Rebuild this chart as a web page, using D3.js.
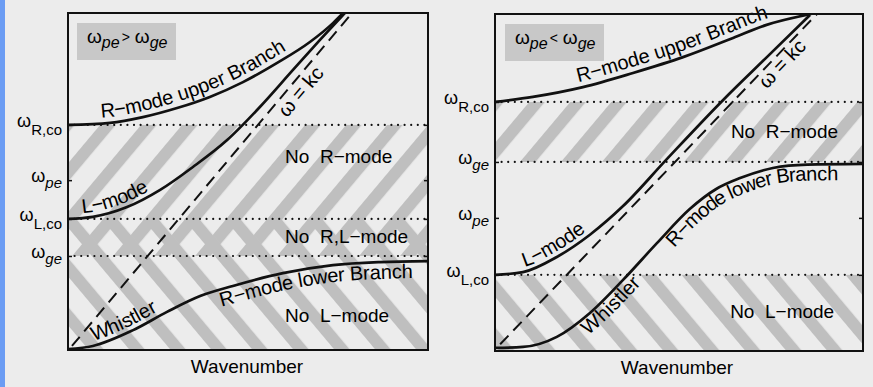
<!DOCTYPE html>
<html>
<head>
<meta charset="utf-8">
<script src="https://cdn.jsdelivr.net/npm/d3@7"></script>
<style>
  body { margin: 0; background: #ececec; }
  svg { display: block; font-family: "Liberation Sans", Arial, sans-serif; }
</style>
</head>
<body>
<svg id="chart" width="873" height="387"></svg>
<script>
// ---- data (wavenumber k and frequency w, both in arbitrary 0..10 units) ----

// left panel: w_pe > w_ge
const leftCutoffNames  = ["R,co", "pe", "L,co", "ge"];
const leftCutoffValues = [6.68, 5.04, 3.89, 2.79];
const leftUpper = [[0,6.68],[1.17,6.74],[2.08,6.91],[3.03,7.18],[3.94,7.51],[4.86,7.95],[5.81,8.52],[6.72,9.14],[7.36,9.70],[7.64,10.0]];
const leftLmode = [[0,3.89],[0.69,3.95],[1.64,4.24],[2.56,4.75],[3.47,5.43],[4.42,6.23],[5.33,7.21],[6.25,8.31],[7.0,9.2],[7.69,10.0]];
const leftLower = [[0,0.03],[0.69,0.12],[1.81,0.59],[2.75,1.13],[3.67,1.6],[4.58,1.9],[5.97,2.28],[7.36,2.52],[8.67,2.61],[10,2.64]];
const leftLight = [[0.11,0.12],[7.89,10.0]];

// right panel: w_pe < w_ge
const rightCutoffNames  = ["R,co", "ge", "pe", "L,co"];
const rightCutoffValues = [7.39, 5.61, 3.95, 2.26];
const rightUpper = [[0,7.39],[1.03,7.54],[2.39,7.83],[3.75,8.25],[5.11,8.72],[6.47,9.29],[7.36,9.67],[8.59,10.0]];
const rightLmode = [[0,2.26],[0.76,2.34],[1.68,2.79],[2.58,3.45],[3.48,4.3],[4.65,5.67],[6.2,7.45],[7.36,8.69],[8.56,9.97]];
const rightLower = [[0,0.09],[0.76,0.12],[1.68,0.42],[2.58,1.13],[3.48,2.11],[4.4,3.2],[5.3,4.22],[6.0,4.8],[6.66,5.13],[7.55,5.43],[8.48,5.53],[10,5.55]];
const rightLight = [[0.14,0.2],[8.75,10.0]];

const xLabel = "Wavenumber";

const svg = d3.select("#chart");
const defs = svg.append("defs");

// blue strip at the left edge
svg.append("rect").attr("x", 0).attr("y", 0).attr("width", 5).attr("height", 387).attr("fill", "#6b9cf3");

// hatch patterns: "/" and "\" stripes
function hatch(id, angle) {
  const p = defs.append("pattern")
    .attr("id", id)
    .attr("patternUnits", "userSpaceOnUse")
    .attr("width", 31.4).attr("height", 20)
    .attr("patternTransform", `rotate(${angle})`);
  p.append("rect").attr("x", 0).attr("y", 0).attr("width", 12).attr("height", 20).attr("fill", "#bfbfbf");
}
hatch("slash", 40);
hatch("back", -40);

const FS = 19;

function drawPanel(o) {
  const x = d3.scaleLinear().domain([0, 10]).range([o.x0, o.x1]);
  const y = d3.scaleLinear().domain([0, 10]).range([o.y0, o.y1]);
  const g = svg.append("g");
  const lvl = name => o.cutoffValues[o.cutoffNames.indexOf(name)];

  defs.append("clipPath").attr("id", o.id + "-clip")
    .append("rect").attr("x", o.x0).attr("y", o.y1)
    .attr("width", o.x1 - o.x0).attr("height", o.y0 - o.y1);

  // forbidden regions
  g.append("rect")
    .attr("x", o.x0).attr("width", o.x1 - o.x0)
    .attr("y", y(lvl("R,co"))).attr("height", y(lvl("ge")) - y(lvl("R,co")))
    .attr("fill", "url(#slash)");
  g.append("rect")
    .attr("x", o.x0).attr("width", o.x1 - o.x0)
    .attr("y", y(lvl("L,co"))).attr("height", y(0) - y(lvl("L,co")))
    .attr("fill", "url(#back)");

  // title box
  g.append("rect").attr("x", o.x0 + o.box[0]).attr("y", o.y1 + o.box[1])
    .attr("width", 99).attr("height", 37).attr("fill", "#c8c8c8");
  const tt = g.append("text").attr("x", o.x0 + o.box[0] + 10).attr("y", o.y1 + o.box[1] + 20)
    .attr("font-size", 19);
  tt.append("tspan").text("ω");
  tt.append("tspan").attr("font-size", 16).attr("font-style", "italic").attr("dy", 5).text("pe");
  tt.append("tspan").attr("font-size", 14).attr("dx", 2).attr("dy", -6).text(o.rel);
  tt.append("tspan").attr("dx", 5).attr("dy", 1).text("ω");
  tt.append("tspan").attr("font-size", 16).attr("font-style", "italic").attr("dy", 5).text("ge");

  // cutoff dotted lines
  g.selectAll(".cut").data(o.cutoffValues.filter((v, i) => o.cutoffNames[i] !== "pe"))
    .enter().append("line")
    .attr("x1", o.x0).attr("x2", o.x1)
    .attr("y1", d => y(d)).attr("y2", d => y(d))
    .attr("stroke", "#111").attr("stroke-width", 2.2)
    .attr("stroke-linecap", "round").attr("stroke-dasharray", "0,6.6");

  // axes: only small inner ticks
  const la = g.append("g").attr("transform", `translate(${o.x0},0)`)
    .call(d3.axisLeft(y).tickValues(o.cutoffValues).tickSizeInner(-4).tickSizeOuter(0).tickFormat(""));
  const ra = g.append("g").attr("transform", `translate(${o.x1},0)`)
    .call(d3.axisRight(y).tickValues(o.cutoffValues).tickSizeInner(-4).tickSizeOuter(0).tickFormat(""));
  [la, ra].forEach(a => { a.select(".domain").remove(); a.selectAll("line").attr("stroke", "#111").attr("stroke-width", 1.5); });

  // cutoff labels
  o.cutoffNames.forEach((n, i) => {
    const t = g.append("text").attr("x", o.x0 - 6).attr("y", y(o.cutoffValues[i]) + 2)
      .attr("text-anchor", "end").attr("font-size", 18);
    t.append("tspan").text("ω");
    const italic = (n === "pe" || n === "ge");
    t.append("tspan").attr("font-size", 15).attr("dy", italic ? 6 : 8)
      .attr("font-style", italic ? "italic" : "normal").text(n);
  });

  // curves
  const line = d3.line().x(d => x(d[0])).y(d => y(d[1])).curve(d3.curveMonotoneX);
  const cg = g.append("g").attr("clip-path", `url(#${o.id}-clip)`);
  const paths = {};
  [["upper", o.upper], ["L", o.lmode], ["lower", o.lower]].forEach(([k, pts]) => {
    paths[k] = cg.append("path").attr("id", o.id + "-" + k).attr("d", line(pts))
      .attr("fill", "none").attr("stroke", "#111").attr("stroke-width", 2.7);
  });
  paths.light = cg.append("path").attr("id", o.id + "-light").attr("d", d3.line().x(d => x(d[0])).y(d => y(d[1]))(o.light))
    .attr("fill", "none").attr("stroke", "#111").attr("stroke-width", 2).attr("stroke-dasharray", "12,7");

  // labels along curves
  o.curveLabels.forEach(l => {
    const node = paths[l.curve].node();
    const px = x(l.k);
    let lo = 0, hi = node.getTotalLength();
    for (let i = 0; i < 30; i++) {
      const mid = (lo + hi) / 2;
      if (node.getPointAtLength(mid).x < px) lo = mid; else hi = mid;
    }
    g.append("text").attr("font-size", 20)
      .append("textPath").attr("href", `#${o.id}-${l.curve}`).attr("startOffset", lo)
      .append("tspan").attr("dy", l.dy).text(l.text);
  });

  // region labels
  o.regionLabels.forEach(l => {
    g.append("text").attr("x", x(l.k)).attr("y", y(l.w)).attr("font-size", FS)
      .style("white-space", "pre").text(l.text);
  });

  // frame
  g.append("rect").attr("x", o.x0).attr("y", o.y1).attr("width", o.x1 - o.x0).attr("height", o.y0 - o.y1)
    .attr("fill", "none").attr("stroke", "#111").attr("stroke-width", 2);

  // x label
  g.append("text").attr("x", (o.x0 + o.x1) / 2 + o.xlabDx).attr("y", o.y0 + 23)
    .attr("text-anchor", "middle").attr("font-size", 19).text(xLabel);
}

drawPanel({
  id: "lp", x0: 68, x1: 428, y0: 350, y1: 13, box: [9, 10], rel: ">",
  cutoffNames: leftCutoffNames, cutoffValues: leftCutoffValues,
  upper: leftUpper, lmode: leftLmode, lower: leftLower, light: leftLight, xlabDx: -1,
  curveLabels: [
    { curve: "upper", text: "R−mode upper Branch", k: 0.94, dy: -6 },
    { curve: "L", text: "L−mode", k: 0.42, dy: -5 },
    { curve: "lower", text: "Whistler", k: 0.75, dy: -5 },
    { curve: "lower", text: "R−mode lower Branch", k: 4.14, dy: 17 },
    { curve: "light", text: "ω = kc", k: 5.7, dy: 18 }
  ],
  regionLabels: [
    { text: "No  R−mode", k: 6.03, w: 5.55 },
    { text: "No  R,L−mode", k: 6.03, w: 3.18 },
    { text: "No  L−mode", k: 6.03, w: 0.83 }
  ]
});

drawPanel({
  id: "rp", x0: 495, x1: 863, y0: 351, y1: 14, box: [10, 10], rel: "<",
  cutoffNames: rightCutoffNames, cutoffValues: rightCutoffValues,
  upper: rightUpper, lmode: rightLmode, lower: rightLower, light: rightLight, xlabDx: -2,
  curveLabels: [
    { curve: "upper", text: "R−mode upper Branch", k: 2.3, dy: -6 },
    { curve: "L", text: "L−mode", k: 0.85, dy: -5 },
    { curve: "lower", text: "Whistler", k: 2.25, dy: 16 },
    { curve: "lower", text: "R−mode lower Branch", k: 4.55, dy: 16 },
    { curve: "light", text: "ω = kc", k: 7.07, dy: 16 }
  ],
  regionLabels: [
    { text: "No  R−mode", k: 6.41, w: 6.32 },
    { text: "No  L−mode", k: 6.39, w: 0.98 }
  ]
});
</script>
</body>
</html>
